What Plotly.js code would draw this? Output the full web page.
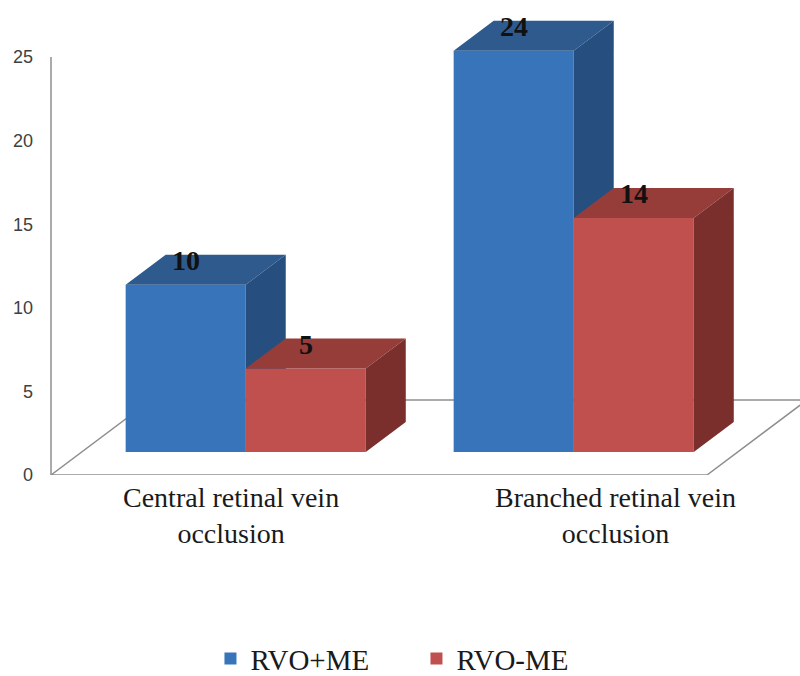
<!DOCTYPE html>
<html>
<head>
<meta charset="utf-8">
<script src="https://cdn.plot.ly/plotly-3.0.1.min.js"></script>
<style>
  html, body { margin: 0; padding: 0; background: #ffffff; }
  #chart { width: 800px; height: 676px; }
</style>
</head>
<body>
<div id="chart"></div>
<script>
// ---- data ----
const categories = ['Central retinal vein<br>occlusion', 'Branched retinal vein<br>occlusion'];
const seriesNames = ['RVO+ME', 'RVO-ME'];
const rvoWithME = [10, 24];
const rvoWithoutME = [5, 14];
const yTickValues = [0, 5, 10, 15, 20, 25];

// ---- oblique "3D" projection (depth 1 = full floor depth) ----
const DEPTH_X = 0.305;      // category units per unit of depth
const DEPTH_Y = 4.486;      // value units per unit of depth
const BAR_FRONT = 0.307;    // depth of the bar front plane
const BAR_BACK = 0.707;     // depth of the bar back plane
const BAR_W = 0.366;        // bar width in category units
const Y_MAX = 25;           // top of the value axis
const Y_TOP = 28.41;        // head room above the axis for the box tops
const PX_PER_CAT = 328;

const palette = [
  { front: '#3874BA', top: '#2E5A8E', side: '#264F80' },
  { front: '#C0504D', top: '#963D3A', side: '#7B2F2D' }
];

function proj(x, y, d) { return [x + d * DEPTH_X, y + d * DEPTH_Y]; }
function polygon(points) {
  return { x: points.map(p => p[0]).concat(points[0][0]), y: points.map(p => p[1]).concat(points[0][1]) };
}

const catPos = categories.map((_, i) => i);
const traces = [];
const annotations = [];
const gridGray = '#8f8f8f';

// floor plane (bottom subplot)
const floor = polygon([
  proj(-0.5, 0, 0), proj(catPos.length - 0.5, 0, 0),
  proj(catPos.length - 0.5, 0, 1), proj(-0.5, 0, 1)
]);
traces.push({
  type: 'scatter', mode: 'lines', x: floor.x, y: floor.y,
  xaxis: 'x', yaxis: 'y', fill: 'toself', fillcolor: '#ffffff',
  line: { color: gridGray, width: 1.5 }, showlegend: false, hoverinfo: 'skip'
});
// value axis line at the front-left corner
traces.push({
  type: 'scatter', mode: 'lines', x: [-0.5, -0.5], y: [0, Y_MAX],
  xaxis: 'x', yaxis: 'y', line: { color: gridGray, width: 1.5 },
  showlegend: false, hoverinfo: 'skip'
});

// one overlaid subplot per series so the red boxes sit in front of the blue ones
[rvoWithME, rvoWithoutME].forEach((vals, s) => {
  const yax = s === 0 ? 'y2' : 'y3';
  const col = palette[s];
  const frontShiftX = BAR_FRONT * DEPTH_X;
  const frontShiftY = BAR_FRONT * DEPTH_Y;

  // front faces as bars
  traces.push({
    type: 'bar', name: seriesNames[s],
    x: catPos.map(c => c + frontShiftX), y: vals,
    base: vals.map(() => frontShiftY),
    width: BAR_W, offset: s === 0 ? -BAR_W : 0,
    xaxis: 'x', yaxis: yax,
    marker: { color: col.front, line: { width: 0 } },
    hoverinfo: 'skip', showlegend: true
  });

  vals.forEach((v, i) => {
    const x0 = catPos[i] + (s === 0 ? -BAR_W : 0);
    const x1 = x0 + BAR_W;
    const top = polygon([proj(x0, v, BAR_FRONT), proj(x1, v, BAR_FRONT), proj(x1, v, BAR_BACK), proj(x0, v, BAR_BACK)]);
    const side = polygon([proj(x1, 0, BAR_FRONT), proj(x1, v, BAR_FRONT), proj(x1, v, BAR_BACK), proj(x1, 0, BAR_BACK)]);
    [[top, col.top], [side, col.side]].forEach(([f, c]) => {
      traces.push({
        type: 'scatter', mode: 'lines', x: f.x, y: f.y, xaxis: 'x', yaxis: yax,
        fill: 'toself', fillcolor: c, line: { width: 0, color: c },
        showlegend: false, hoverinfo: 'skip'
      });
    });
    // value label on the top face
    const cx = (x0 + x1) / 2 + frontShiftX;
    annotations.push({
      xref: 'x', yref: yax, x: cx, y: v + frontShiftY,
      text: String(v), showarrow: false, yanchor: 'middle', xanchor: 'center', yshift: 24,
      font: { family: 'Liberation Serif, Times New Roman, serif', size: 28, color: '#111111', weight: 700 }
    });
  });
});

// category labels along the front of the floor
const catLabelX = [0.049, 1.22];
categories.forEach((c, i) => {
  annotations.push({
    xref: 'x', yref: 'paper', x: catLabelX[i], y: -0.011, yanchor: 'top', xanchor: 'center',
    text: c, showarrow: false, align: 'center',
    font: { family: 'Liberation Serif, Times New Roman, serif', size: 28, color: '#1a1a1a' }
  });
});

const hiddenY = { range: [0, Y_TOP], overlaying: 'y', visible: false, fixedrange: true };

const layout = {
  width: 800, height: 676,
  margin: { l: 49, r: 0, t: 0, b: 201, autoexpand: false },
  paper_bgcolor: '#ffffff', plot_bgcolor: 'rgba(0,0,0,0)',
  showlegend: true,
  hovermode: false,
  xaxis: {
    range: [-0.5 - 2 / PX_PER_CAT, -0.5 + 749 / PX_PER_CAT], visible: false, fixedrange: true
  },
  yaxis: {
    range: [0, Y_TOP], tickvals: yTickValues, ticks: '', showgrid: false, zeroline: false,
    showline: false, ticklabelstandoff: 15,
    tickfont: { family: 'Liberation Sans, Arial, sans-serif', size: 18, color: '#404040' },
    fixedrange: true
  },
  yaxis2: hiddenY,
  yaxis3: Object.assign({}, hiddenY),
  legend: {
    orientation: 'h', x: 0.215, xanchor: 'left', y: -0.3865, yanchor: 'middle',
    font: { family: 'Liberation Serif, Times New Roman, serif', size: 29, color: '#1a1a1a' },
    entrywidth: 161, bgcolor: 'rgba(0,0,0,0)'
  },
  annotations: annotations
};

Plotly.newPlot('chart', traces, layout, { staticPlot: true, displayModeBar: false });
</script>
</body>
</html>
